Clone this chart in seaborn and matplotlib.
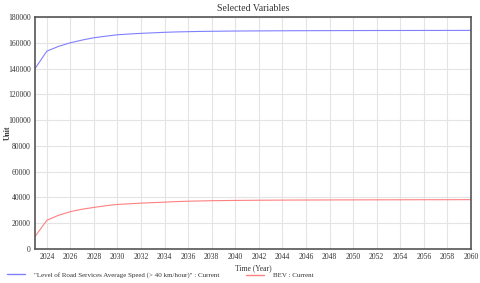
import matplotlib
matplotlib.use("Agg")
import matplotlib.pyplot as plt
import seaborn as sns
import pandas as pd
from matplotlib.lines import Line2D

years = list(range(2023, 2061))
speed_level = [140000, 153500, 157200, 160000, 162100, 163900, 165100, 166200, 166800, 167300,
               167700, 168100, 168400, 168600, 168800, 168900, 169000, 169100, 169150, 169200,
               169250, 169300, 169330, 169360, 169390, 169420, 169440, 169460, 169480, 169500,
               169510, 169520, 169530, 169540, 169550, 169570, 169580, 169600]
bev = [9700, 22300, 26200, 29000, 30900, 32300, 33600, 34600, 35100, 35600,
       36000, 36400, 36800, 37100, 37300, 37500, 37600, 37700, 37780, 37850,
       37900, 37950, 38000, 38030, 38060, 38090, 38110, 38130, 38150, 38170,
       38190, 38210, 38230, 38250, 38260, 38270, 38290, 38300]
series_names = ['"Level of Road Services Average Speed (> 40 km/hour)" : Current', 'BEV : Current']
colors = ['#8080ff', '#ff8080']

df = pd.DataFrame({
    'Year': years * 2,
    'Value': speed_level + bev,
    'Series': [series_names[0]] * len(years) + [series_names[1]] * len(years),
})

sns.set_theme(style="white")
plt.rcParams['font.family'] = ['Liberation Serif', 'DejaVu Serif']

fig = plt.figure(figsize=(4.8, 2.83), dpi=100)
ax = fig.add_axes([0.073, 0.12, 0.908, 0.82])
sns.lineplot(data=df, x='Year', y='Value', hue='Series', palette=colors, linewidth=0.8, ax=ax, legend=False)

ax.set_xlim(2023, 2060)
ax.set_ylim(0, 180000)
ax.set_xticks(list(range(2024, 2061, 2)))
ax.set_yticks(list(range(0, 180001, 20000)))
ax.set_yticklabels([str(v) for v in range(0, 180001, 20000)])
ax.tick_params(axis='both', labelsize=5.5, length=0, pad=3, colors='#333333')
ax.grid(True, color='#e4e4e4', linewidth=0.8)
for s in ax.spines.values():
    s.set_color('#555555')
    s.set_linewidth(1.2)

ax.set_title('Selected Variables', fontsize=7, pad=4, color='#333333')
ax.set_xlabel('Time (Year)', fontsize=5.5, labelpad=2, color='#333333')
ax.set_ylabel('Unit', fontsize=5.5, fontweight='bold', color='#333333')
ax.yaxis.set_label_coords(-0.054, 0.5)

for i, (c, name) in enumerate(zip(colors, series_names)):
    x0 = 0.002 if i == 0 else 0.5
    fig.legend([Line2D([0], [0], color=c, lw=1)], [name], loc='lower left',
               bbox_to_anchor=(x0, -0.005), fontsize=5, frameon=False,
               handlelength=2.5, handletextpad=1.3, labelcolor='#333333')

fig.savefig('out.png', dpi=100)
